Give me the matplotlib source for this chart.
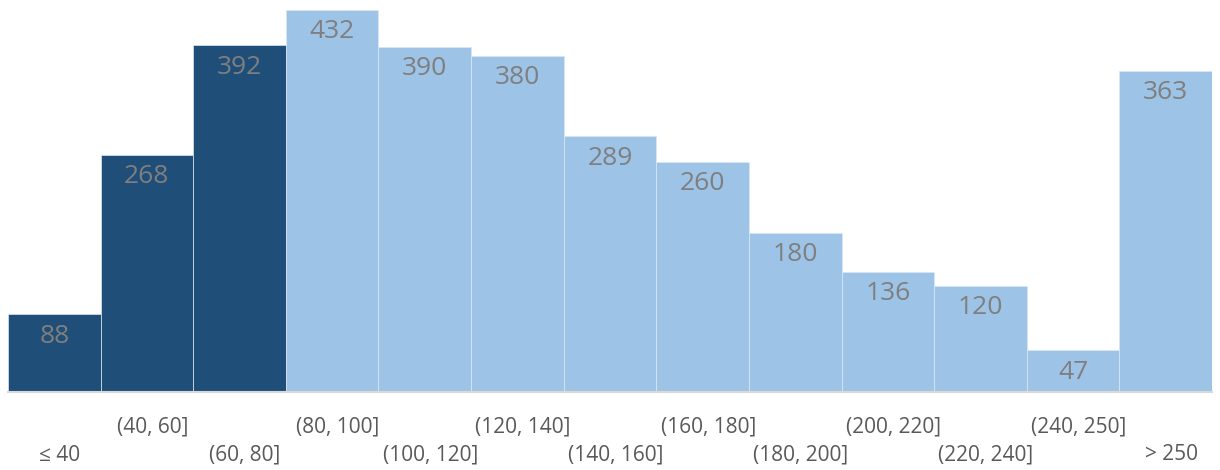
import matplotlib
matplotlib.use("Agg")
import matplotlib.pyplot as plt

categories = ["≤ 40", "(40, 60]", "(60, 80]", "(80, 100]", "(100, 120]", "(120, 140]",
              "(140, 160]", "(160, 180]", "(180, 200]", "(200, 220]", "(220, 240]",
              "(240, 250]", "> 250"]
values = [88, 268, 392, 432, 390, 380, 289, 260, 180, 136, 120, 47, 363]
highlight = [True, True, True] + [False] * 10

DARK = "#1f4e79"
LIGHT = "#9dc3e6"

plt.rcParams['font.family'] = ['Open Sans', 'DejaVu Sans']

fig = plt.figure(figsize=(12.2, 4.7), dpi=100)
ax = fig.add_axes([8 / 1220, (470 - 392) / 470, 1204 / 1220, 392 / 470])

x = list(range(len(categories)))
colors = [DARK if h else LIGHT for h in highlight]
ax.bar(x, values, width=1.0, color=colors, edgecolor="#dbe8f5", linewidth=0.5, zorder=2)

ax.set_xlim(-0.5, len(categories) - 0.5)
ax.set_ylim(0, 443)

for s in ["top", "right", "left"]:
    ax.spines[s].set_visible(False)
ax.spines["bottom"].set_color("#d9d9d9")
ax.spines["bottom"].set_linewidth(1.5)
ax.set_xticks([])
ax.set_yticks([])

px = 0.72
for i, v in enumerate(values):
    ax.annotate(str(v), xy=(i, v), xytext=(0, -22 * px), textcoords="offset points",
                ha="center", va="center", fontsize=19, color="#7f7f7f", zorder=3)

for i, lab in enumerate(categories):
    off = -63 if i % 2 == 0 else -35
    ax.annotate(lab, xy=(i, 0), xycoords=("data", "axes fraction"),
                xytext=(4, off * px), textcoords="offset points",
                ha="center", va="center", fontsize=15, color="#595959",
                annotation_clip=False)

fig.savefig("out.png", dpi=100)
